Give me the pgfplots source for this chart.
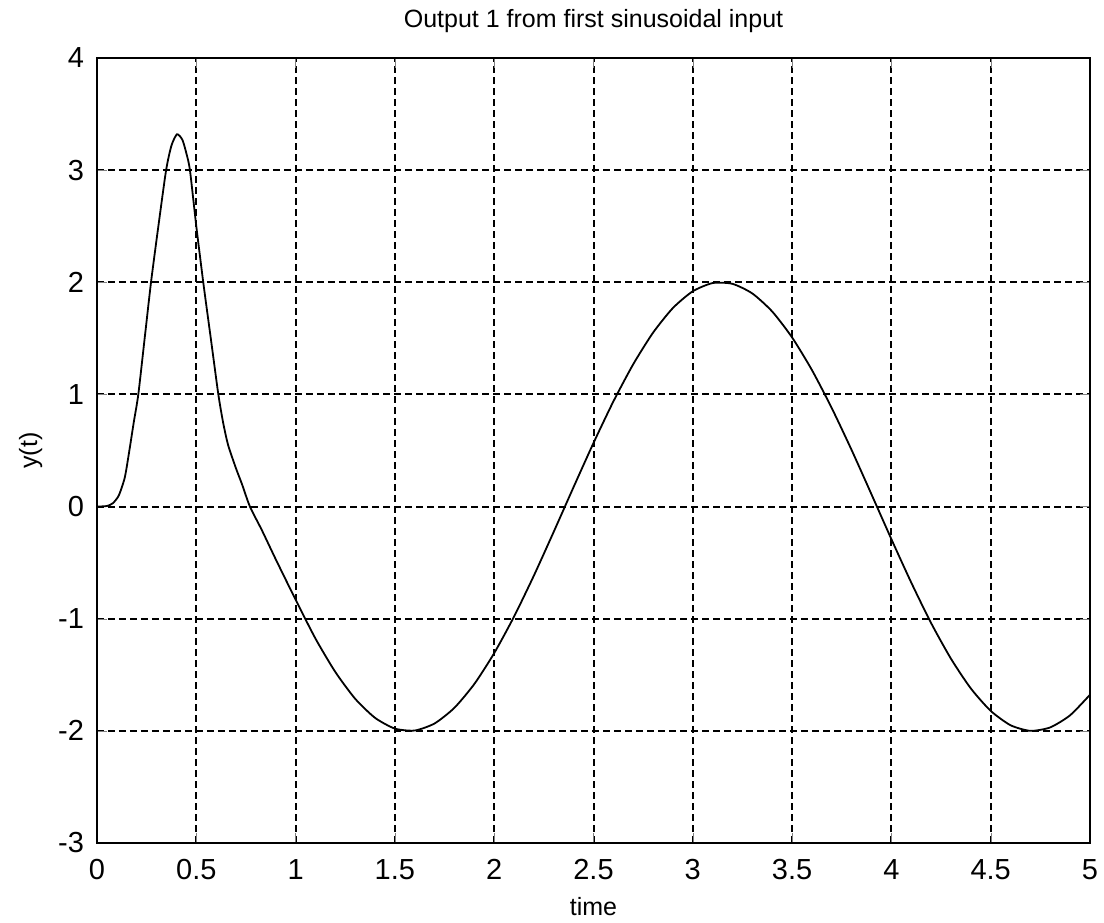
\documentclass[border=0pt]{standalone}
\usepackage{fontspec}
\setmainfont{Liberation Sans}
\usepackage{pgfplots}
\pgfplotsset{compat=1.18}
\usetikzlibrary{calc}

\begin{document}
\begin{tikzpicture}
  \begin{axis}[
      scale only axis,
      width=496.5pt, height=392.5pt,
      xmin=0, xmax=5, ymin=-3, ymax=4,
      xtick={0,0.5,...,5}, ytick={-3,-2,...,4},
      xticklabels={0,0.5,1,1.5,2,2.5,3,3.5,4,4.5,5},
      /pgf/number format/assume math mode=true,
      tick label style={font=\fontsize{14.5}{16}\selectfont},
      label style={font=\fontsize{12.5}{14}\selectfont},
      title style={font=\fontsize{12.5}{14}\selectfont, yshift=3pt},
      title={Output 1 from first sinusoidal input},
      xlabel={time}, ylabel={y(t)},
      xlabel style={yshift=-2pt},
      ylabel style={yshift=1pt},
      tick align=inside, major tick length=5pt,
      axis line style={line width=0.8pt},
      grid=major,
      grid style={black, line width=1pt, dash pattern=on 3.5pt off 2pt},
      xticklabel style={yshift=-4.5pt},
      yticklabel style={xshift=-3pt},
    ]
    \addplot[black, line width=0.9pt, smooth, tension=0.4] coordinates {
      (0,0) (0.05,0.005) (0.08,0.03) (0.11,0.1) (0.14,0.26) (0.163,0.5)
      (0.185,0.75) (0.208,1.0) (0.24,1.5) (0.272,2.0) (0.309,2.5) (0.348,3.0)
      (0.375,3.22) (0.403,3.32) (0.43,3.27) (0.45,3.15) (0.468,3.0) (0.50,2.5)
      (0.535,2.0) (0.573,1.5) (0.611,1.0) (0.635,0.75) (0.66,0.55) (0.70,0.34)
      (0.73,0.2) (0.77,0.0) (0.83,-0.21) (0.9,-0.47)
      (1.0,-0.83) (1.1,-1.177) (1.2,-1.475) (1.3,-1.714) (1.4,-1.884)
      (1.5,-1.980) (1.6,-1.997) (1.7,-1.934) (1.8,-1.794) (1.9,-1.582)
      (2.0,-1.307) (2.1,-0.981) (2.2,-0.615) (2.3,-0.224) (2.4,0.175)
      (2.5,0.567) (2.6,0.937) (2.7,1.269) (2.8,1.551) (2.9,1.771)
      (3.0,1.920) (3.1,1.993) (3.2,1.986) (3.3,1.900) (3.4,1.739)
      (3.5,1.508) (3.6,1.217) (3.7,0.877) (3.8,0.503) (3.9,0.108)
      (4.0,-0.291) (4.1,-0.678) (4.2,-1.039) (4.3,-1.357) (4.4,-1.622)
      (4.5,-1.822) (4.6,-1.950) (4.7,-2.000) (4.8,-1.969) (4.9,-1.861)
      (5.0,-1.678)
    };
  \end{axis}
  \pgfresetboundingbox
  \useasboundingbox ($(current axis.south west)+(-48.5pt,-40pt)$) rectangle ($(current axis.north east)+(7pt,29pt)$);
\end{tikzpicture}
\end{document}
